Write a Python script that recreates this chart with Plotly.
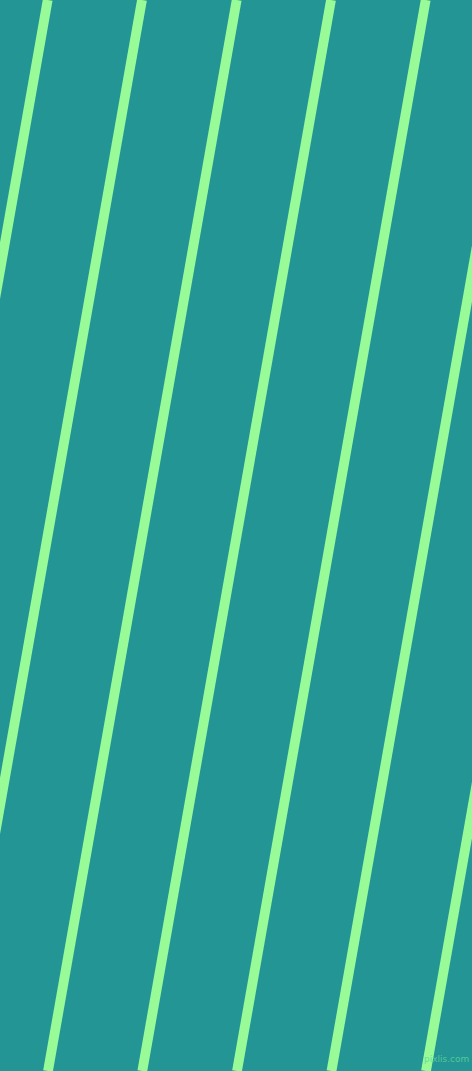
import plotly.graph_objects as go

W, H = 472, 1071

BG_COLOR = "#239595"
STRIPE_COLOR = "#98FB98"

# stripe centre x where each stripe crosses the top (y=0) and bottom (y=H) edges
top_x = [47.7, 142.0, 236.7, 331.0, 425.7, 520.2, 614.7]
bottom_x = [-141.0, -46.7, 48.0, 142.3, 237.0, 331.5, 426.0]

fig = go.Figure()

for x0, x1 in zip(top_x, bottom_x):
    fig.add_trace(go.Scatter(
        x=[x0, x1], y=[0, H], mode="lines",
        line=dict(color=STRIPE_COLOR, width=9.8),
        hoverinfo="skip", showlegend=False,
    ))

fig.add_annotation(
    x=446, y=1059, xref="x", yref="y", text="pixlis.com", showarrow=False,
    font=dict(family="DejaVu Sans", size=9, color="#5fd49a"), opacity=0.8,
)

fig.update_layout(
    width=W, height=H,
    margin=dict(l=0, r=0, t=0, b=0),
    paper_bgcolor=BG_COLOR, plot_bgcolor=BG_COLOR,
    xaxis=dict(range=[0, W], visible=False, fixedrange=True),
    yaxis=dict(range=[H, 0], visible=False, fixedrange=True),
    showlegend=False,
)

fig.write_html(
    "out.html",
    config={"displayModeBar": False},
    post_script="document.body.style.margin='0';document.body.style.background='" + BG_COLOR + "';",
)
